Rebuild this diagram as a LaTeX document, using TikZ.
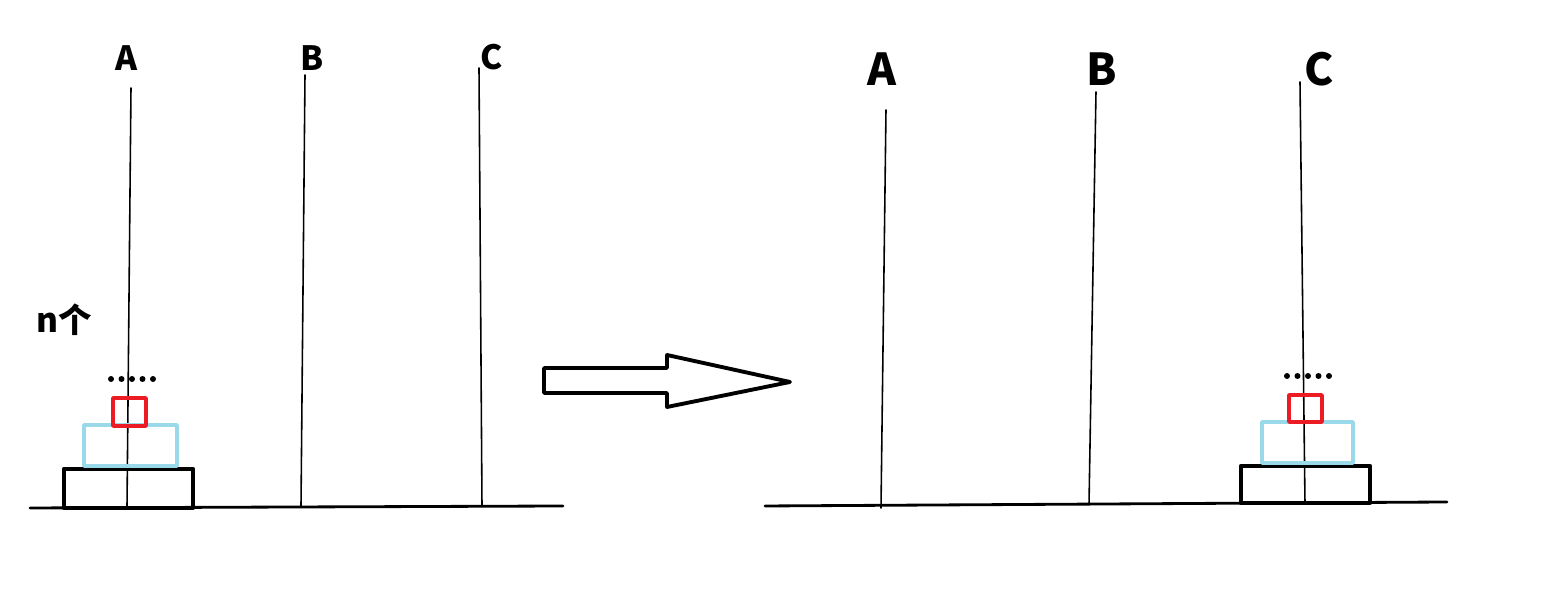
\documentclass[tikz,border=0pt]{standalone}
\usepackage{fontspec}
\setmainfont{Noto Sans CJK SC}
\definecolor{diskred}{RGB}{237,28,36}
\definecolor{diskblue}{RGB}{153,217,234}
\tikzset{
  pole/.style={line width=0.45pt},
  ground/.style={line width=0.8pt},
  disk/.style={line width=1pt},
  peglabel/.style={font=\bfseries\fontsize{9.5}{10}\selectfont, inner sep=0pt},
  bigpeglabel/.style={font=\bfseries\fontsize{12.5}{13}\selectfont, inner sep=0pt}
}
\begin{document}
\begin{tikzpicture}[x=0.01cm, y=-0.01cm, line join=round, line cap=round]
	\useasboundingbox (0,0) rectangle (1559,601);
	% before
	\draw[ground] (30,508) -- (563,506);
	\draw[pole] (131,88) -- (127,507);
	\draw[pole] (305,75) -- (301,506);
	\draw[pole] (479,68) -- (482,506);
	\node[peglabel] (lA) at (127,58) {A};
	\node[peglabel] (lB) at (312,58) {B};
	\node[peglabel] (lC) at (492,57) {C};
	\node[peglabel] (count) at (64,320) {n个};
	\draw[disk, line width=1.2pt] (64,469) rectangle (193,508);
	\draw[disk, diskblue] (84,425) rectangle (177,466);
	\draw[disk, diskred] (113,398) rectangle (146,426);
	\foreach \i in {0,...,4} \fill (111+10.5*\i,379) circle (3);
	% arrow
	\draw[line width=1.1pt] (544,368) -- (667,368) -- (667,355) -- (790,382) -- (667,407) -- (667,393) -- (544,393) -- cycle;
	% after
	\draw[ground] (765,506) -- (1447,502);
	\draw[pole] (886,110) -- (881,508);
	\draw[pole] (1096,92) -- (1089,505);
	\draw[pole] (1300,82) -- (1305,503);
	\node[bigpeglabel] (rA) at (882,69) {A};
	\node[bigpeglabel] (rB) at (1102,69) {B};
	\node[bigpeglabel] (rC) at (1319,69) {C};
	\draw[disk, line width=1.2pt] (1241,466) rectangle (1370,503);
	\draw[disk, diskblue] (1262,422) rectangle (1353,463);
	\draw[disk, diskred] (1289,395) rectangle (1322,422);
	\foreach \i in {0,...,4} \fill (1287+10.5*\i,376) circle (3);
\end{tikzpicture}
\end{document}
